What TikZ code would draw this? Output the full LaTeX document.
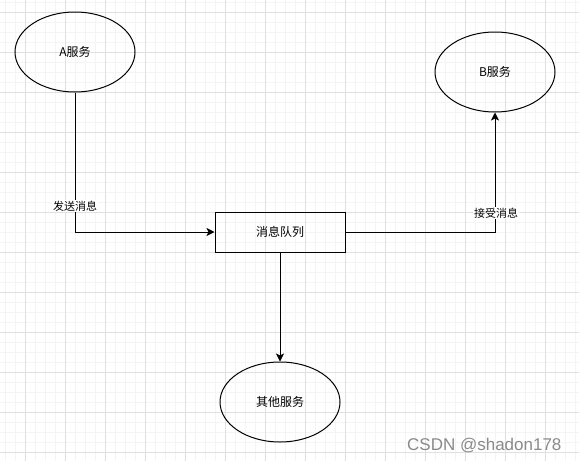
\documentclass[tikz,border=0pt]{standalone}
\usepackage{fontspec}
\setmainfont{Noto Sans CJK SC}
\newfontfamily\wmfont{Liberation Sans}
\usetikzlibrary{arrows.meta,shapes.geometric}
\definecolor{minorc}{HTML}{F4F4F4}
\definecolor{majorc}{HTML}{E0E0E0}
\definecolor{wmc}{HTML}{8A8A8A}
\begin{document}
\begin{tikzpicture}[x=1pt,y=-1pt,
  ell/.style={ellipse, draw, line width=1pt, minimum width=120pt, minimum height=80pt, inner sep=0pt, font=\fontsize{12}{14}\selectfont},
  box/.style={rectangle, draw, line width=1pt, minimum width=130pt, minimum height=40pt, inner sep=0pt, font=\fontsize{12}{14}\selectfont},
  conn/.style={line width=1pt, -{Stealth[length=8pt,width=8pt,inset=2pt]}},
  lbl/.style={fill=white, inner sep=1pt, font=\fontsize{11}{13}\selectfont},
  minorline/.style={minorc, line width=0.8pt},
  majorline/.style={majorc, line width=0.8pt}]
\useasboundingbox (0,0) rectangle (579,461);
\fill[white] (0,0) rectangle (579,461);
\foreach \x in {5,15,...,575} \draw[minorline] (\x,0) -- (\x,461);
\foreach \y in {2,12,...,452} \draw[minorline] (0,\y) -- (579,\y);
\foreach \x in {25,65,...,545} \draw[majorline] (\x,0) -- (\x,461);
\foreach \y in {12,52,...,452} \draw[majorline] (0,\y) -- (579,\y);

\node[ell] (A) at (75,52) {A服务};
\node[ell] (B) at (495,72) {B服务};
\node[box] (Q) at (280,232) {消息队列};
\node[ell] (C) at (280,402) {其他服务};

\draw[conn] (A.south) |- (Q.west);
\draw[conn] (Q.east) -| (B.south);
\draw[conn] (Q.south) -- (C.north);

\node[lbl] (l1) at (75,206) {发送消息};
\node[lbl] (l2) at (496,213) {接受消息};

\node[anchor=base west, text=wmc, font=\wmfont\fontsize{17}{19}\selectfont, inner sep=0pt] (wm) at (407,450.5) {CSDN @shadon178};
\end{tikzpicture}
\end{document}
